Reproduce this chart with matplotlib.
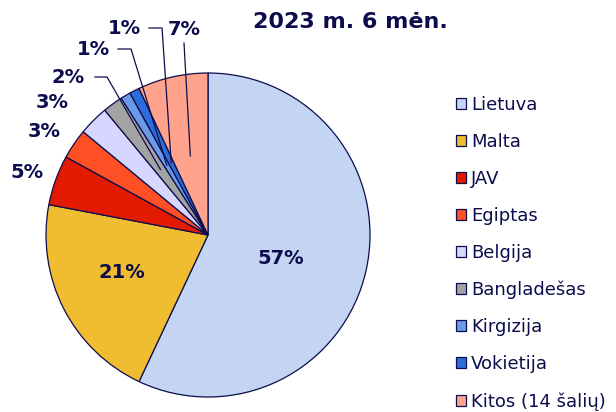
import numpy as np
import matplotlib.pyplot as plt

# 2023 m. 6 mėn. - pasiskirstymas pagal šalis
salys = ["Lietuva", "Malta", "JAV", "Egiptas", "Belgija", "Bangladešas",
         "Kirgizija", "Vokietija", "Kitos (14 šalių)"]
dalys = [57, 21, 5, 3, 3, 2, 1, 1, 7]
spalvos = ["#c3d5f2", "#f0bd30", "#e21a00", "#ff5025", "#d6d6fe", "#a3a3a3",
           "#6a9be8", "#2c6dd9", "#ffa38c"]

tamsi = "#0d0d4d"

fig = plt.figure(figsize=(6.16, 4.12), dpi=100)
ax = fig.add_axes([0, 0, 1, 1])

cx, cy, R = 208, 412 - 235, 162
wedges, _ = ax.pie(dalys, colors=spalvos, startangle=90, counterclock=False,
                   center=(cx, cy), radius=R, frame=True,
                   wedgeprops=dict(edgecolor=tamsi, linewidth=0.9))
ax.set_xlim(0, 616)
ax.set_ylim(0, 412)
ax.set_aspect("equal")
ax.axis("off")

def kampas(w):
    return np.deg2rad((w.theta1 + w.theta2) / 2)

lbl = dict(fontsize=14, fontweight="bold", color=tamsi, ha="center", va="center")

# vidinės etiketės
ax.text(281, 412 - 258, f"{dalys[0]}%", **lbl)
ax.text(122, 412 - 272, f"{dalys[1]}%", **lbl)

# išorinės be linijų
for i, (tx, ty) in zip([2, 3, 4], [(27, 172), (44, 131), (52, 102)]):
    ax.text(tx, 412 - ty, f"{dalys[i]}%", **lbl)

# išorinės su linijomis
for i, (tx, ty), (hx0, hx1) in zip([5, 6, 7], [(68, 77), (93, 49), (124, 28)],
                                    [(95, 107), (118, 131), (149, 162)]):
    ax.text(tx, 412 - ty, f"{dalys[i]}%", **lbl)
    a = kampas(wedges[i])
    px, py = cx + 0.5 * R * np.cos(a), cy + 0.5 * R * np.sin(a)
    ax.plot([hx0, hx1, px], [412 - ty, 412 - ty, py], color=tamsi, lw=0.9)

ax.text(184, 412 - 29, f"{dalys[8]}%", **lbl)
a = kampas(wedges[8])
ax.plot([184, cx + 0.5 * R * np.cos(a)], [412 - 43, cy + 0.5 * R * np.sin(a)],
        color=tamsi, lw=0.9)

ax.text(350, 412 - 22, "2023 m. 6 mėn.", fontsize=16, fontweight="bold",
        color=tamsi, ha="center", va="center")

leg = ax.legend(wedges, salys, loc="upper left", bbox_to_anchor=(456 / 616, 1 - 96 / 412),
                frameon=False, fontsize=13, labelspacing=1.05, handlelength=0.55,
                handleheight=0.55, handletextpad=0.3, borderaxespad=0, borderpad=0)
for t in leg.get_texts():
    t.set_color(tamsi)

fig.savefig("out.png", dpi=100)
